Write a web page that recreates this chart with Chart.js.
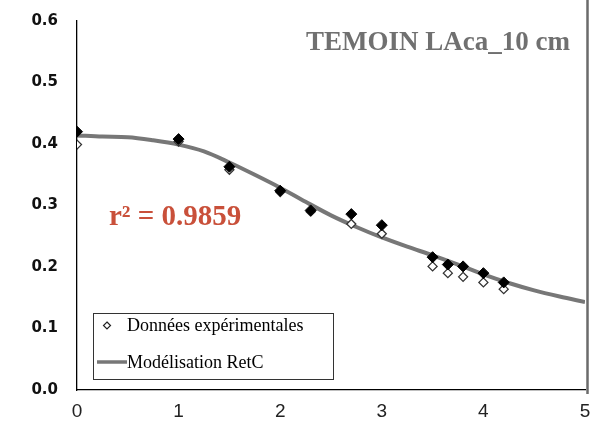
<!DOCTYPE html>
<html>
<head>
<meta charset="utf-8">
<script src="https://cdn.jsdelivr.net/npm/chart.js@4.4.0/dist/chart.umd.min.js"></script>
<style>
  html, body { margin: 0; padding: 0; background: #fff; }
  #wrap { width: 606px; height: 428px; }
</style>
</head>
<body>
<div id="wrap"><canvas id="chart" width="606" height="428"></canvas></div>
<script>
// measured points (filled diamonds and open diamonds)
var expX     = [0, 1.0, 1.5, 2.0, 2.3, 2.7, 3.0, 3.5, 3.65, 3.8, 4.0, 4.2];
var expFull  = [0.420, 0.408, 0.363, 0.324, 0.292, 0.286, 0.268, 0.216, 0.204, 0.201, 0.190, 0.175];
var expOpen  = [0.399, 0.404, 0.358, 0.322, 0.290, 0.270, 0.254, 0.201, 0.190, 0.184, 0.175, 0.164];

// model curve RetC
var modelX   = [0, 0.25, 0.5, 0.75, 1.0, 1.25, 1.5, 1.75, 2.0, 2.25, 2.5, 2.75, 3.0, 3.25, 3.5, 3.75, 4.0, 4.25, 4.5, 4.75, 5.0];
var modelY   = [0.414, 0.412, 0.411, 0.406, 0.399, 0.388, 0.370, 0.350, 0.329, 0.306, 0.284, 0.265, 0.248, 0.233, 0.219, 0.204, 0.188, 0.174, 0.162, 0.152, 0.143];

var xTicks   = [0, 1, 2, 3, 4, 5];
var yTicks   = [0.0, 0.1, 0.2, 0.3, 0.4, 0.5, 0.6];

var chartTitle  = 'TEMOIN LAca_10 cm';
var r2Label     = 'r² = 0.9859';
var legendItems = ['Données expérimentales', 'Modélisation RetC'];

function pairs(xs, ys) {
    return xs.map(function(x, i){ return {x: x, y: ys[i]}; });
}

// text + legend + frame drawn over the plot
var overlay = {
    id: 'overlay',
    afterDraw: function(chart) {
        var ctx = chart.ctx, a = chart.chartArea;
        ctx.save();

        // right border
        ctx.strokeStyle = '#6b6b6b';
        ctx.lineWidth = 2.5;
        ctx.beginPath();
        ctx.moveTo(a.right + 2.5, 0);
        ctx.lineTo(a.right + 2.5, a.bottom + 4);
        ctx.stroke();

        // title
        ctx.fillStyle = '#707070';
        ctx.font = 'bold 27px "Liberation Serif"';
        ctx.textAlign = 'right';
        ctx.textBaseline = 'middle';
        ctx.fillText(chartTitle, 570, 43);

        // r2
        ctx.fillStyle = '#c9503a';
        ctx.font = 'bold 29px "Liberation Serif"';
        ctx.textAlign = 'left';
        ctx.fillText(r2Label, 109, 218);

        // legend box
        ctx.fillStyle = '#fff';
        ctx.fillRect(93, 313, 240, 66);
        ctx.strokeStyle = '#333';
        ctx.lineWidth = 1;
        ctx.strokeRect(93.5, 313.5, 240, 66);

        ctx.fillStyle = '#000';
        ctx.font = '18px "Liberation Serif"';
        ctx.fillText(legendItems[0], 127, 326);
        ctx.fillText(legendItems[1], 127, 363);

        // open diamond marker
        ctx.strokeStyle = '#222';
        ctx.lineWidth = 1.2;
        ctx.beginPath();
        ctx.moveTo(107, 322); ctx.lineTo(110.5, 325.5); ctx.lineTo(107, 329); ctx.lineTo(103.5, 325.5);
        ctx.closePath();
        ctx.stroke();

        // line sample
        ctx.strokeStyle = '#777';
        ctx.lineWidth = 3.5;
        ctx.beginPath();
        ctx.moveTo(97, 362); ctx.lineTo(127, 362);
        ctx.stroke();

        ctx.restore();
    }
};

new Chart(document.getElementById('chart'), {
    type: 'scatter',
    data: {
        datasets: [
            {
                label: 'full',
                data: pairs(expX, expFull),
                pointStyle: 'rectRot',
                pointRadius: 5.5,
                backgroundColor: '#000',
                borderColor: '#000',
                borderWidth: 1,
                order: 0
            },
            {
                label: legendItems[0],
                data: pairs(expX, expOpen),
                pointStyle: 'rectRot',
                pointRadius: 4.5,
                backgroundColor: '#fff',
                borderColor: '#333',
                borderWidth: 1.3,
                order: 1
            },
            {
                label: legendItems[1],
                data: pairs(modelX, modelY),
                showLine: true,
                pointRadius: 0,
                borderColor: '#777',
                borderWidth: 4,
                cubicInterpolationMode: 'monotone',
                order: 2
            }
        ]
    },
    options: {
        responsive: false,
        animation: false,
        layout: { padding: { top: 19, right: 21, left: 0, bottom: 0 } },
        plugins: { legend: { display: false }, tooltip: { enabled: false } },
        scales: {
            x: {
                type: 'linear',
                min: 0, max: 5,
                afterBuildTicks: function(s){ s.ticks = xTicks.map(function(v){ return {value: v}; }); },
                afterFit: function(s){ s.height = 38; },
                grid: { display: false, drawTicks: true, tickLength: 5, tickColor: '#000' },
                border: { color: '#000', width: 1.3 },
                ticks: {
                    color: '#222',
                    padding: 5,
                    font: { family: '"Liberation Sans"', size: 19 }
                }
            },
            y: {
                min: 0, max: 0.6,
                afterBuildTicks: function(s){ s.ticks = yTicks.map(function(v){ return {value: v}; }); },
                afterFit: function(s){ s.width = 77; },
                grid: { display: false, drawTicks: true, tickLength: 7, tickColor: '#000' },
                border: { color: '#000', width: 1.3 },
                ticks: {
                    color: '#111',
                    padding: 12,
                    font: { family: '"DejaVu Sans"', size: 15, weight: 'bold' },
                    callback: function(v){ return v.toFixed(1); }
                }
            }
        }
    },
    plugins: [overlay]
});
</script>
</body>
</html>
